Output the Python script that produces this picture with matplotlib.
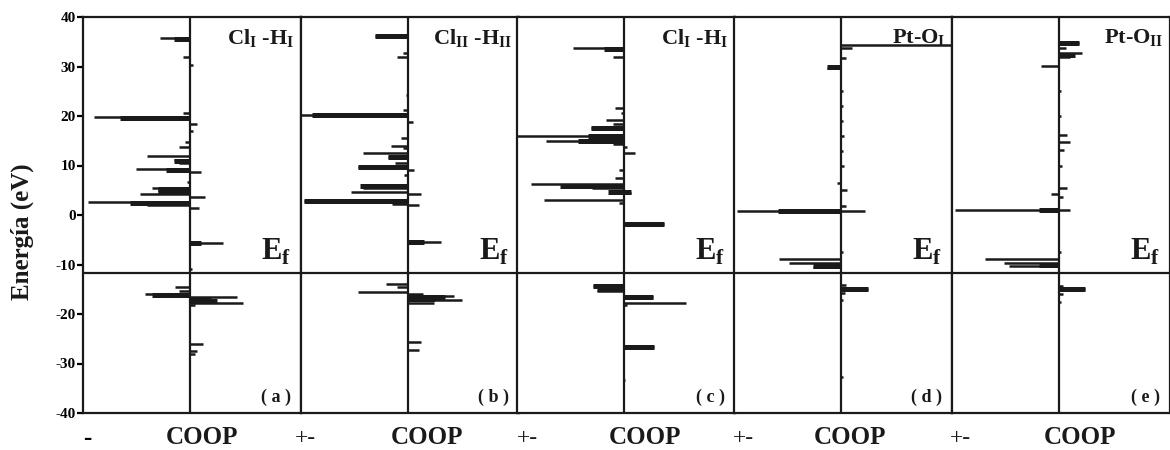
import matplotlib
matplotlib.use('Agg')
import matplotlib.pyplot as plt

plt.rcParams['font.family'] = ['Liberation Serif', 'DejaVu Serif']
plt.rcParams['font.weight'] = 'bold'
plt.rcParams['mathtext.fontset'] = 'custom'
plt.rcParams['mathtext.rm'] = 'Liberation Serif'
plt.rcParams['mathtext.bf'] = 'Liberation Serif:bold'

# COOP spikes: energy (eV) and COOP value (arb. units)
e_a = [35.8, 31.9, 30.3, 20.6, 19.8, 18.4, 17.0, 14.7, 13.7, 12.0, 11.1, 10.5, 9.3, 8.6, 6.7, 5.4, 4.8,
       4.2, 3.6, 2.7, 2.0, 1.5, -5.7, -11.0, -14.5, -15.3, -16.0, -16.6, -17.0, -17.7, -18.2, -26.0,
       -27.4, -28.0]
c_a = [-0.28, -0.06, 0.03, -0.06, -0.9, 0.07, 0.03, -0.05, -0.1, -0.4, -0.15, -0.1, -0.5, 0.1, -0.03,
       -0.35, -0.3, -0.47, 0.14, -0.95, -0.4, 0.09, 0.31, 0.02, -0.14, -0.1, -0.42, 0.44, 0.19, 0.5,
       0.05, 0.12, 0.07, 0.05]
eb_a = [35.6, 19.5, 11.0, 9.1, 5.3, 4.8, 2.4, -5.7, -16.2, -16.9, -17.4]
cb_a = [-0.15, -0.65, -0.15, -0.22, -0.3, -0.3, -0.56, 0.1, -0.35, 0.2, 0.25]

e_b = [36.1, 32.7, 31.9, 24.2, 21.2, 20.2, 18.8, 15.5, 14.0, 13.5, 12.5, 11.8, 10.6, 9.7, 9.0, 8.0,
       6.0, 5.5, 4.6, 4.2, 2.9, 2.2, 2.0, -5.5, -14.0, -14.5, -15.6, -16.0, -16.4, -17.2, -17.8,
       -25.6, -27.3]
c_b = [-0.31, -0.05, -0.1, -0.02, -0.05, -1.0, 0.05, -0.06, -0.16, -0.05, -0.42, -0.19, -0.12, -0.47,
       0.06, -0.04, -0.22, -0.42, -0.53, 0.12, -0.97, -0.15, 0.1, 0.31, -0.2, -0.1, -0.47, 0.14, 0.43,
       0.51, 0.24, 0.12, 0.1]
eb_b = [36.1, 20.3, 11.8, 9.7, 5.8, 2.9, -5.5, -16.6, -17.0]
cb_b = [-0.31, -0.9, -0.19, -0.47, -0.45, -0.97, 0.15, 0.35, 0.25]

e_c = [33.7, 32.0, 21.6, 20.6, 19.2, 18.4, 17.5, 16.0, 15.0, 14.3, 13.7, 12.5, 9.0, 7.4, 6.2, 5.5,
       4.5, 3.0, 2.5, -1.8, -14.3, -15.3, -16.5, -17.7, -18.2, -26.7, -33.3]
c_c = [-0.48, -0.1, -0.08, -0.03, -0.17, -0.1, -0.31, -1.0, -0.73, -0.1, 0.03, 0.1, -0.05, -0.08,
       -0.87, -0.3, 0.07, -0.75, -0.05, 0.38, -0.29, -0.25, 0.27, 0.58, 0.03, 0.28, 0.01]
eb_c = [33.6, 17.5, 16.0, 15.0, 5.8, 4.6, 4.6, -1.8, -14.3, -15.0, -16.5, -26.7]
cb_c = [-0.19, -0.31, -0.34, -0.43, -0.6, -0.15, 0.07, 0.38, -0.29, -0.25, 0.27, 0.28]

e_d = [34.3, 33.8, 31.7, 29.7, 25.0, 22.0, 19.0, 16.0, 13.0, 10.0, 6.4, 5.0, 1.8, 0.8, 0.8, -7.5,
       -8.9, -9.7, -10.5, -14.9, -14.2, -15.8, -17.2, -32.7]
c_d = [1.1, 0.1, 0.05, -0.13, 0.02, 0.02, 0.02, 0.03, 0.02, 0.03, -0.04, 0.06, 0.05, -0.97, 0.23,
       0.02, -0.58, -0.49, -0.26, 0.25, 0.05, 0.04, 0.02, 0.02]
eb_d = [29.8, 0.9, -10.3, -14.9]
cb_d = [-0.13, -0.59, -0.26, 0.25]

e_e = [34.7, 33.7, 32.7, 32.0, 30.1, 25.0, 20.0, 16.2, 14.7, 13.1, 10.0, 5.4, 4.2, 3.7, 1.0, 1.0,
       -7.5, -8.9, -9.7, -10.3, -15.0, -14.3, -16.0, -17.5]
c_e = [0.19, 0.07, 0.22, 0.1, -0.17, 0.02, 0.02, 0.08, 0.1, 0.05, 0.03, 0.08, -0.07, 0.04, -0.97, 0.1,
       0.02, -0.69, -0.51, -0.47, 0.24, 0.04, 0.04, 0.02]
eb_e = [34.7, 32.4, 1.0, -10.1, -15.0]
cb_e = [0.19, 0.15, -0.19, -0.19, 0.24]

fermi = -11.7
titles = [r'Cl$_{\mathrm{I}}$ -H$_{\mathrm{I}}$', r'Cl$_{\mathrm{II}}$ -H$_{\mathrm{II}}$',
          r'Cl$_{\mathrm{I}}$ -H$_{\mathrm{I}}$', r'Pt-O$_{\mathrm{I}}$', r'Pt-O$_{\mathrm{II}}$']
letters = ['( a )', '( b )', '( c )', '( d )', '( e )']
yticks = [-40, -30, -20, -10, 0, 10, 20, 30, 40]

panels = [(e_a, c_a, eb_a, cb_a), (e_b, c_b, eb_b, cb_b), (e_c, c_c, eb_c, cb_c),
          (e_d, c_d, eb_d, cb_d), (e_e, c_e, eb_e, cb_e)]
lefts = [83, 301, 517, 734, 952]

W, H = 1170, 450
fig = plt.figure(figsize=[11.7, 4.5], dpi=100)

for i, (e, c, eb, cb) in enumerate(panels):
    ax = fig.add_axes([lefts[i] / W, (H - 413) / H, 218 / W, 396 / H])
    ax.set_xlim(-1, 1.04)
    ax.set_ylim(-40, 40)
    ax.hlines(e, 0, c, color='#1a1a1a', linewidth=1.8)
    ax.hlines(eb, 0, cb, color='#1a1a1a', linewidth=3.6)
    ax.axvline(0, color='#1a1a1a', linewidth=1.6)
    ax.axhline(fermi, color='#1a1a1a', linewidth=1.6)
    for s in ax.spines.values():
        s.set_linewidth(1.6)
        s.set_color('#1a1a1a')
    ax.set_xticks([])
    if i == 0:
        ax.set_yticks(yticks)
        ax.set_yticklabels([str(t) for t in yticks], fontsize=11, fontweight='bold')
        ax.tick_params(axis='y', direction='out', length=4, width=1.6, pad=1)
    else:
        ax.set_yticks([])
    ax.text(0.97, 0.975, titles[i], transform=ax.transAxes, ha='right', va='top',
            fontsize=16, fontweight='bold', color='#1a1a1a')
    ax.text(0.955, fermi + 1.2, r'E$_{\mathbf{f}}$', transform=ax.get_yaxis_transform(),
            ha='right', va='bottom', fontsize=22, fontweight='bold', color='#1a1a1a')
    ax.text(0.955, -36.8, letters[i], transform=ax.get_yaxis_transform(),
            ha='right', va='center', fontsize=13, fontweight='bold', color='#1a1a1a')

fig.text(22 / W, 1 - 232 / H, 'Energía (eV)', rotation=90, ha='center', va='center',
         fontsize=18, fontweight='bold', color='#1a1a1a')

for xc in [202, 427, 645, 850, 1080]:
    fig.text(xc / W, 1 - 437 / H, 'COOP', ha='center', va='center', fontsize=18,
             fontweight='bold', color='#1a1a1a')
fig.text(87 / W, 1 - 438 / H, '-', ha='center', va='center', fontsize=18, fontweight='bold')
for xc in [305, 527, 743, 960]:
    fig.text(xc / W, 1 - 439 / H, '+-', ha='center', va='center', fontsize=17,
             fontweight='normal', color='#1a1a1a')

plt.savefig('out.png', dpi=100)
